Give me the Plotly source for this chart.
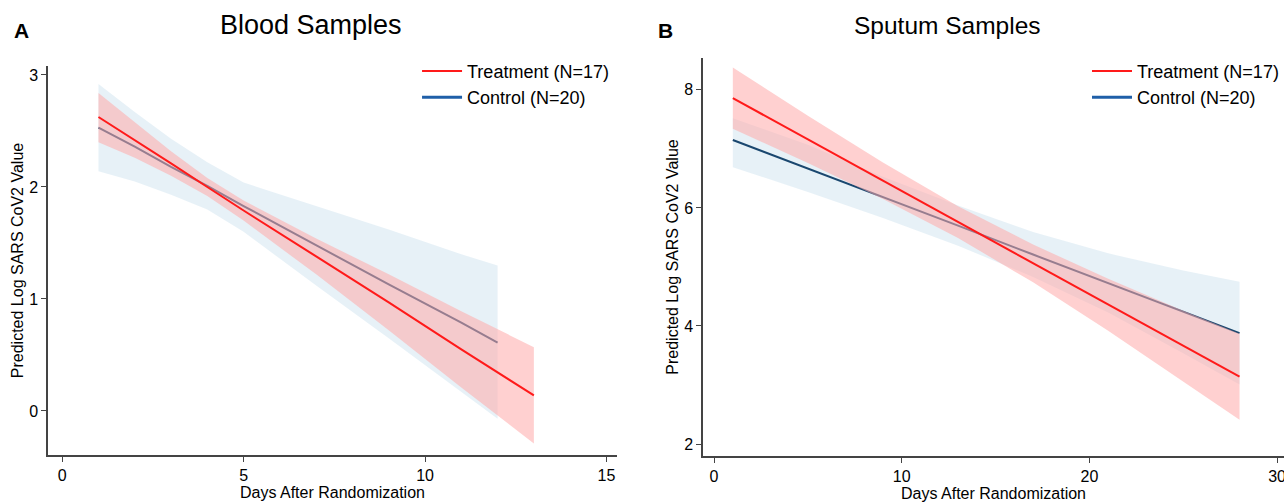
import plotly.graph_objects as go

# Panel A: blood samples
blood_trt_x = [1, 2, 3, 4, 5, 7, 9, 11, 13]
blood_trt_fit = [2.625, 2.42, 2.21, 2.00, 1.79, 1.38, 0.97, 0.55, 0.14]
blood_trt_hi = [2.84, 2.58, 2.32, 2.08, 1.88, 1.54, 1.22, 0.89, 0.57]
blood_trt_lo = [2.40, 2.26, 2.10, 1.92, 1.70, 1.22, 0.72, 0.21, -0.29]

blood_ctl_x = [1, 2, 3, 4, 5, 7, 9, 11, 12]
blood_ctl_fit = [2.53, 2.36, 2.18, 2.01, 1.83, 1.48, 1.13, 0.79, 0.61]
blood_ctl_hi = [2.92, 2.67, 2.43, 2.22, 2.04, 1.83, 1.62, 1.40, 1.30]
blood_ctl_lo = [2.14, 2.05, 1.93, 1.80, 1.60, 1.12, 0.65, 0.17, -0.07]

# Panel B: sputum samples
sput_trt_x = [1, 5, 9, 13, 17, 21, 25, 28]
sput_trt_fit = [7.86, 7.16, 6.46, 5.76, 5.06, 4.36, 3.66, 3.14]
sput_trt_hi = [8.38, 7.56, 6.77, 6.03, 5.38, 4.80, 4.26, 3.87]
sput_trt_lo = [7.34, 6.76, 6.15, 5.49, 4.74, 3.92, 3.06, 2.41]

sput_ctl_x = [1, 5, 9, 13, 17, 21, 25, 28]
sput_ctl_fit = [7.15, 6.67, 6.18, 5.70, 5.21, 4.73, 4.24, 3.88]
sput_ctl_hi = [7.52, 7.07, 6.53, 6.04, 5.59, 5.23, 4.94, 4.75]
sput_ctl_lo = [6.69, 6.27, 5.83, 5.36, 4.83, 4.23, 3.54, 3.01]

TRT_LABEL = "Treatment (N=17)"
CTL_LABEL = "Control (N=20)"

RED = "#ff1a1a"
NAVY = "#1a476f"
PINK_FILL = "rgba(255,170,170,0.55)"
BLUE_FILL = "rgba(60,140,190,0.12)"
FONT = "Liberation Sans, Arial, sans-serif"

fig = go.Figure()


def add_panel(xa, ya, leg, ctl_x, ctl_fit, ctl_hi, ctl_lo, trt_x, trt_fit, trt_hi, trt_lo):
    # control band + line first, treatment band drawn over it
    fig.add_trace(go.Scatter(
        x=ctl_x + ctl_x[::-1], y=ctl_hi + ctl_lo[::-1],
        fill="toself", fillcolor=BLUE_FILL, line=dict(width=0),
        mode="lines", hoverinfo="skip", showlegend=False, xaxis=xa, yaxis=ya,
    ))
    fig.add_trace(go.Scatter(
        x=ctl_x, y=ctl_fit, mode="lines", line=dict(color=NAVY, width=2),
        showlegend=False, xaxis=xa, yaxis=ya,
    ))
    fig.add_trace(go.Scatter(
        x=trt_x + trt_x[::-1], y=trt_hi + trt_lo[::-1],
        fill="toself", fillcolor=PINK_FILL, line=dict(width=0),
        mode="lines", hoverinfo="skip", showlegend=False, xaxis=xa, yaxis=ya,
    ))
    fig.add_trace(go.Scatter(
        x=trt_x, y=trt_fit, mode="lines", line=dict(color=RED, width=2),
        name=TRT_LABEL, legend=leg, xaxis=xa, yaxis=ya,
    ))
    # legend entry for control
    fig.add_trace(go.Scatter(
        x=[None], y=[None], mode="lines", line=dict(color="#1f5fa8", width=3),
        name=CTL_LABEL, legend=leg, xaxis=xa, yaxis=ya,
    ))


add_panel("x", "y", "legend",
          blood_ctl_x, blood_ctl_fit, blood_ctl_hi, blood_ctl_lo,
          blood_trt_x, blood_trt_fit, blood_trt_hi, blood_trt_lo)
add_panel("x2", "y2", "legend2",
          sput_ctl_x, sput_ctl_fit, sput_ctl_hi, sput_ctl_lo,
          sput_trt_x, sput_trt_fit, sput_trt_hi, sput_trt_lo)

axis_style = dict(
    showgrid=False, zeroline=False, showline=True, linecolor="#444",
    linewidth=1.5, ticks="outside", ticklen=5, tickcolor="#444",
    tickfont=dict(size=16, color="black"), automargin=False,
    ticklabeloverflow="allow",
)
ytitle = "Predicted Log SARS CoV2 Value"
xtitle = "Days After Randomization"
legend_style = dict(yanchor="top", xanchor="left", font=dict(size=18),
                    bgcolor="rgba(0,0,0,0)", tracegroupgap=0, itemwidth=40)

fig.update_layout(
    width=1284, height=502,
    margin=dict(l=0, r=0, t=0, b=0),
    paper_bgcolor="white", plot_bgcolor="white",
    font=dict(family=FONT, color="black"),
    xaxis=dict(domain=[0.0374, 0.4805], range=[-0.39, 15.29],
               tickvals=[0, 5, 10, 15], anchor="y",
               title=dict(text=xtitle, font=dict(size=16), standoff=2), **axis_style),
    yaxis=dict(domain=[0.0936, 0.8685], range=[-0.393, 3.08],
               tickvals=[0, 1, 2, 3], anchor="x",
               title=dict(text=ytitle, font=dict(size=16), standoff=2), **axis_style),
    xaxis2=dict(domain=[0.5475, 1.0], range=[-0.59, 30.37],
                tickvals=[0, 10, 20, 30], anchor="y2",
                title=dict(text=xtitle, font=dict(size=16), standoff=2), **axis_style),
    yaxis2=dict(domain=[0.0916, 0.8845], range=[1.797, 8.54],
                tickvals=[2, 4, 6, 8], anchor="x2",
                title=dict(text=ytitle, font=dict(size=16), standoff=2), **axis_style),
    legend=dict(x=0.3248, y=0.895, **legend_style),
    legend2=dict(x=0.8466, y=0.895, **legend_style),
    annotations=[
        dict(text="Blood Samples", x=0.242, y=0.95, xref="paper", yref="paper",
             xanchor="center", yanchor="middle", showarrow=False, font=dict(size=27)),
        dict(text="Sputum Samples", x=0.738, y=0.95, xref="paper", yref="paper",
             xanchor="center", yanchor="middle", showarrow=False, font=dict(size=24.5)),
        dict(text="<b>A</b>", x=0.017, y=0.94, xref="paper", yref="paper",
             xanchor="center", yanchor="middle", showarrow=False, font=dict(size=21)),
        dict(text="<b>B</b>", x=0.518, y=0.94, xref="paper", yref="paper",
             xanchor="center", yanchor="middle", showarrow=False, font=dict(size=21)),
    ],
)

fig.write_html("out.html", config={"displayModeBar": False},
               post_script="document.body.style.margin='0';")
